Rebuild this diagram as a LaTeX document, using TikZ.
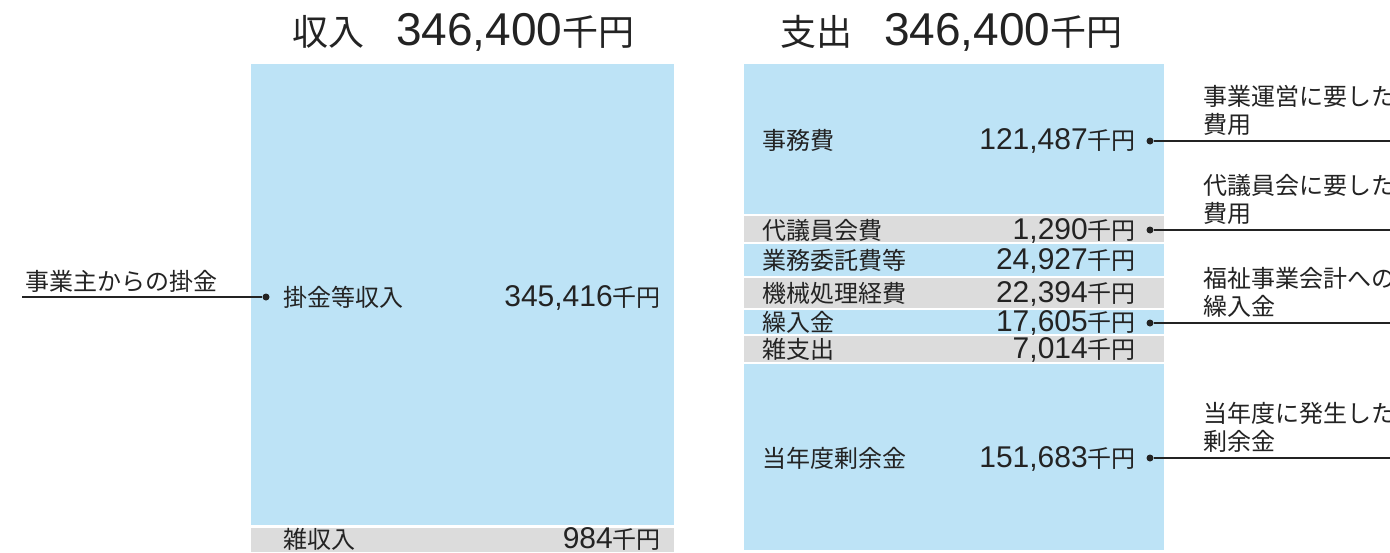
\documentclass[tikz,border=0pt]{standalone}
\usepackage{fontspec}
\setmainfont{Noto Sans CJK JP}
\newfontfamily\numfont{Liberation Sans}
\definecolor{boxblue}{RGB}{189,227,246}
\definecolor{boxgray}{RGB}{220,220,220}
\definecolor{ink}{RGB}{35,35,35}
\newcommand{\numB}[1]{{\fontsize{30}{30}\numfont #1}}
\newcommand{\numT}[1]{{\fontsize{46}{46}\numfont #1}}
\tikzset{
  body/.style={inner sep=0pt, font=\fontsize{24}{28}\selectfont, text=ink},
  bigtitle/.style={inner sep=0pt, font=\fontsize{36}{40}\selectfont, text=ink},
  dotnode/.style={circle, fill=ink, inner sep=0pt, minimum size=7pt},
  conn/.style={draw=ink, line width=1.3pt},
}
\begin{document}
\begin{tikzpicture}[x=1pt,y=-1pt]
\useasboundingbox (0,0) rectangle (1390,552);
\fill[white] (0,0) rectangle (1390,552);

% titles
\node[bigtitle, anchor=base west] (tin) at (292,45) {収入\hspace{32pt}\numT{346,400}千円};
\node[bigtitle, anchor=base west] (tout) at (780,45) {支出\hspace{32pt}\numT{346,400}千円};

% left column
\fill[boxblue] (251,64) rectangle (674,525);
\fill[boxgray] (251,528) rectangle (674,552);
\node[body, anchor=base west] (kake) at (283,306) {掛金等収入};
\node[body, anchor=base east] (kakev) at (661,306) {\numB{345,416}千円};
\node[body, anchor=base west] (zatsu) at (283,548) {雑収入};
\node[body, anchor=base east] (zatsuv) at (661,548) {\numB{984}千円};
\node[body, anchor=base west] (src) at (25,290) {事業主からの掛金};
\node[dotnode] (d0) at (266,297) {};
\coordinate (s0) at (22,297);
\draw[conn] (s0) -- (d0);

% right column
\fill[boxblue] (744,64) rectangle (1164,214);
\fill[boxgray] (744,216) rectangle (1164,242);
\fill[boxblue] (744,244) rectangle (1164,276);
\fill[boxgray] (744,278) rectangle (1164,308);
\fill[boxblue] (744,310) rectangle (1164,334);
\fill[boxgray] (744,336) rectangle (1164,362);
\fill[boxblue] (744,364) rectangle (1164,550);

\node[body, anchor=base west] (r1) at (762,149) {事務費};
\node[body, anchor=base east] (r1v) at (1136,149) {\numB{121,487}千円};
\node[body, anchor=base west] (r2) at (762,239) {代議員会費};
\node[body, anchor=base east] (r2v) at (1136,239) {\numB{1,290}千円};
\node[body, anchor=base west] (r3) at (762,269) {業務委託費等};
\node[body, anchor=base east] (r3v) at (1136,269) {\numB{24,927}千円};
\node[body, anchor=base west] (r4) at (762,302) {機械処理経費};
\node[body, anchor=base east] (r4v) at (1136,302) {\numB{22,394}千円};
\node[body, anchor=base west] (r5) at (762,331) {繰入金};
\node[body, anchor=base east] (r5v) at (1136,331) {\numB{17,605}千円};
\node[body, anchor=base west] (r6) at (762,358) {雑支出};
\node[body, anchor=base east] (r6v) at (1136,358) {\numB{7,014}千円};
\node[body, anchor=base west] (r7) at (762,467) {当年度剰余金};
\node[body, anchor=base east] (r7v) at (1136,467) {\numB{151,683}千円};

% dots and connectors
\node[dotnode] (d1) at (1150,141) {};
\node[dotnode] (d2) at (1150,230) {};
\node[dotnode] (d3) at (1150,323) {};
\node[dotnode] (d4) at (1150,458) {};
\coordinate (e1) at (1390,141);
\coordinate (e2) at (1390,230);
\coordinate (e3) at (1390,323);
\coordinate (e4) at (1390,458);
\draw[conn] (d1) -- (e1);
\draw[conn] (d2) -- (e2);
\draw[conn] (d3) -- (e3);
\draw[conn] (d4) -- (e4);

% right labels
\node[body, anchor=base west] (l1a) at (1203,105.5) {事業運営に要した};
\node[body, anchor=base west] (l1b) at (1203,133.5) {費用};
\node[body, anchor=base west] (l2a) at (1203,194.5) {代議員会に要した};
\node[body, anchor=base west] (l2b) at (1203,222.5) {費用};
\node[body, anchor=base west] (l3a) at (1203,287.5) {福祉事業会計への};
\node[body, anchor=base west] (l3b) at (1203,315.5) {繰入金};
\node[body, anchor=base west] (l4a) at (1203,422.5) {当年度に発生した};
\node[body, anchor=base west] (l4b) at (1203,450.5) {剰余金};
\end{tikzpicture}
\end{document}
